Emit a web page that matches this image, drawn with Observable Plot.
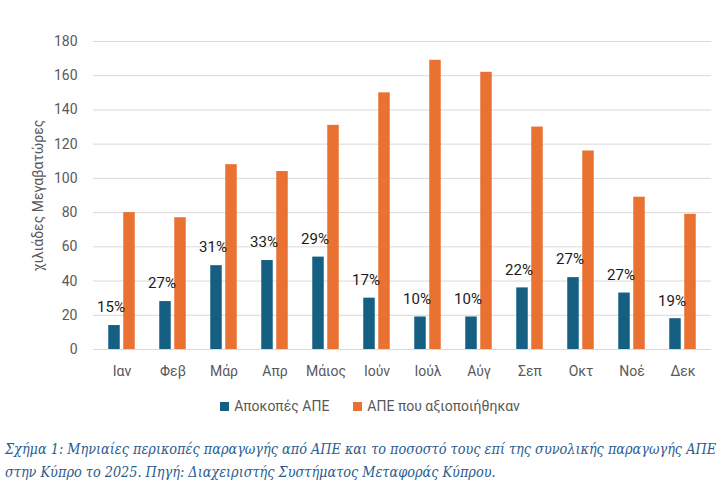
<!DOCTYPE html>
<html>
<head>
<meta charset="utf-8">
<script src="https://cdn.jsdelivr.net/npm/d3@7"></script>
<script src="https://cdn.jsdelivr.net/npm/@observablehq/plot@0.6"></script>
<style>
  body { margin: 0; background: #fff; width: 728px; overflow: hidden; }
  #legend { margin-top: 10px; height: 22px; line-height: 22px; display: flex; justify-content: center; gap: 24px;
            font-family: Roboto, "Liberation Sans", sans-serif; font-size: 14px; color: #595959; padding-left: 12px; }
  #legend span.sw { display: inline-block; width: 9px; height: 9px; margin-right: 5px; vertical-align: 0px; }
  #caption { margin-top: 21px; padding-left: 5px; font-family: "DejaVu Serif Condensed", "DejaVu Serif", serif; font-style: italic;
             font-size: 14.3px; line-height: 23px; color: #2b5c90; white-space: nowrap; }
</style>
</head>
<body>
<div id="chart"></div>
<div id="legend"></div>
<div id="caption">Σχήμα 1: Μηνιαίες περικοπές παραγωγής από ΑΠΕ και το ποσοστό τους επί της συνολικής παραγωγής ΑΠΕ<br>στην Κύπρο το 2025. Πηγή: Διαχειριστής Συστήματος Μεταφοράς Κύπρου.</div>
<script>
const months = ["Ιαν","Φεβ","Μάρ","Απρ","Μάιος","Ιούν","Ιούλ","Αύγ","Σεπ","Οκτ","Νοέ","Δεκ"];
const curtailed = [14,28,49,52,54,30,19,19,36,42,33,18];
const utilized = [80,77,108,104,131,150,169,162,130,116,89,79];
const shareLabels = ["15%","27%","31%","33%","29%","17%","10%","10%","22%","27%","27%","19%"];
const yTicks = [0,20,40,60,80,100,120,140,160,180];
const seriesNames = ["Αποκοπές ΑΠΕ","ΑΠΕ που αξιοποιήθηκαν"];
const seriesColors = ["#156082","#e97132"];
const yTitle = "χιλιάδες Μεγαβατώρες";

const rows = months.map((m, i) => ({month: m, cut: curtailed[i], used: utilized[i], pct: shareLabels[i]}));

const chart = Plot.plot({
  width: 728,
  height: 385,
  marginTop: 41,
  marginBottom: 36,
  marginLeft: 93,
  marginRight: 17,
  style: {fontFamily: "Roboto, 'Liberation Sans', sans-serif", color: "#595959", background: "#fff"},
  x: {domain: months, padding: 0},
  y: {domain: [0, 180]},
  marks: [
    Plot.ruleY(yTicks, {stroke: "#d9d9d9", strokeWidth: 1}),
    Plot.barY(rows, {x: "month", y: "cut", fill: seriesColors[0], insetLeft: 19.75, insetRight: 19.75, dx: -7.5}),
    Plot.barY(rows, {x: "month", y: "used", fill: seriesColors[1], insetLeft: 19.75, insetRight: 19.75, dx: 7.5}),
    Plot.text(rows, {x: "month", y: "cut", text: "pct", dx: -11, dy: -18, lineAnchor: "middle", fill: "#1a1a1a", fontSize: 15, fontWeight: 400, fontFamily: "Roboto, 'Liberation Sans', sans-serif"}),
    Plot.axisY({ticks: yTicks, tickSize: 0, tickPadding: 16, fontSize: 14, label: null}),
    Plot.axisX({tickSize: 0, tickPadding: 17, fontSize: 14, label: null}),
    Plot.text([yTitle], {frameAnchor: "left", textAnchor: "middle", dx: -55, rotate: -90, fontSize: 14, fill: "#595959"})
  ]
});
document.getElementById("chart").appendChild(chart);

const legend = document.getElementById("legend");
seriesNames.forEach((name, i) => {
  const item = document.createElement("div");
  item.innerHTML = `<span class="sw" style="background:${seriesColors[i]}"></span>${name}`;
  legend.appendChild(item);
});
</script>
</body>
</html>
